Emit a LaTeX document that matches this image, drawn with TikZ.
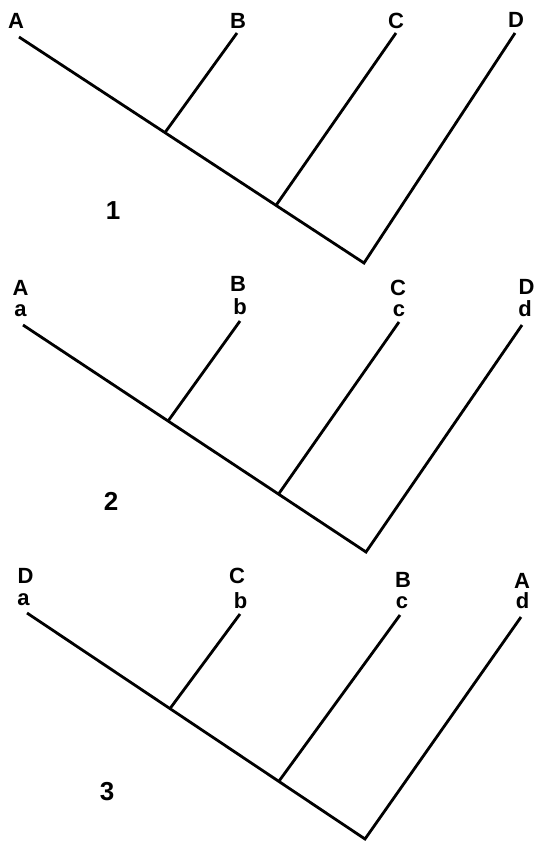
\documentclass[tikz,border=0pt]{standalone}
\usepackage{fontspec}
\setmainfont{Liberation Sans}
\usetikzlibrary{calc}
\begin{document}
\begin{tikzpicture}[x=1pt,y=-1pt,
  lbl/.style={font=\fontsize{22}{22}\selectfont\bfseries, anchor=base, inner sep=0pt},
  num/.style={font=\fontsize{26}{26}\selectfont\bfseries, anchor=base, inner sep=0pt},
  branch/.style={line width=2.8pt, line join=miter}]
\useasboundingbox (0,0) rectangle (535,846);

% ---------- tree 1 ----------
\node[lbl] (A1) at (16,28) {A};
\node[lbl] (B1) at (238,28) {B};
\node[lbl] (C1) at (396,28) {C};
\node[lbl] (D1) at (516,27) {D};
\node[num] (n1) at (113,219) {1};
\coordinate (ta1) at (19,37);
\coordinate (tb1) at (237,33);
\coordinate (tc1) at (396,33);
\coordinate (td1) at (515,33);
\coordinate (r1) at (364,263);
\coordinate (ja1) at ($(ta1)!0.423!(r1)$);
\coordinate (jb1) at ($(ta1)!0.745!(r1)$);
\draw[branch] (ta1) -- (r1) -- (td1);
\draw[branch] (tb1) -- (ja1);
\draw[branch] (tc1) -- (jb1);

% ---------- tree 2 ----------
\node[lbl] (A2) at (20.5,295.5) {A};
\node[lbl] (a2) at (20.5,316) {a};
\node[lbl] (B2) at (238,291) {B};
\node[lbl] (b2) at (240,314) {b};
\node[lbl] (C2) at (398,295.5) {C};
\node[lbl] (c2) at (399,316) {c};
\node[lbl] (D2) at (526.5,294) {D};
\node[lbl] (d2) at (525,316) {d};
\node[num] (n2) at (111,510) {2};
\coordinate (ta2) at (23,325);
\coordinate (tb2) at (240,321);
\coordinate (tc2) at (399,322);
\coordinate (td2) at (522,325);
\coordinate (r2) at (366,552);
\coordinate (ja2) at ($(ta2)!0.423!(r2)$);
\coordinate (jb2) at ($(ta2)!0.745!(r2)$);
\draw[branch] (ta2) -- (r2) -- (td2);
\draw[branch] (tb2) -- (ja2);
\draw[branch] (tc2) -- (jb2);

% ---------- tree 3 ----------
\node[lbl] (D3) at (25.5,583) {D};
\node[lbl] (a3) at (23.5,605) {a};
\node[lbl] (C3) at (237,583) {C};
\node[lbl] (b3) at (240.5,608) {b};
\node[lbl] (B3) at (403,587) {B};
\node[lbl] (c3) at (402,608) {c};
\node[lbl] (A3) at (522,588) {A};
\node[lbl] (d3) at (522.5,608) {d};
\node[num] (n3) at (107,800) {3};
\coordinate (ta3) at (27,613);
\coordinate (tb3) at (240,614);
\coordinate (tc3) at (400,615);
\coordinate (td3) at (521,617);
\coordinate (r3) at (365,839);
\coordinate (ja3) at ($(ta3)!0.423!(r3)$);
\coordinate (jb3) at ($(ta3)!0.745!(r3)$);
\draw[branch] (ta3) -- (r3) -- (td3);
\draw[branch] (tb3) -- (ja3);
\draw[branch] (tc3) -- (jb3);
\end{tikzpicture}
\end{document}
